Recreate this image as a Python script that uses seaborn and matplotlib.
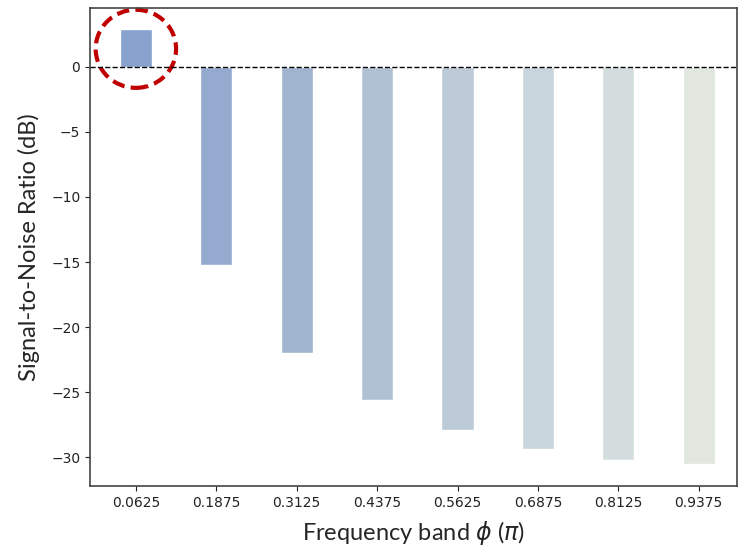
import numpy as np
import pandas as pd
import matplotlib
matplotlib.use('Agg')
import matplotlib.pyplot as plt
import seaborn as sns
from matplotlib.patches import Ellipse

# data
bands = ['0.0625', '0.1875', '0.3125', '0.4375', '0.5625', '0.6875', '0.8125', '0.9375']
snr = [2.9, -15.2, -22.0, -25.6, -27.9, -29.4, -30.2, -30.5]
bar_colors = ['#87a2cd', '#94abcf', '#a0b4d0', '#b0c1d4', '#bdcad8', '#c9d5dc', '#d4dddd', '#e1e6df']

df = pd.DataFrame({'band': bands, 'snr': snr})

sns.set_style('ticks')
fig = plt.figure(figsize=(7.38, 5.46), dpi=100)
ax = fig.add_axes([0.122, 0.110, 0.876, 0.875])

sns.barplot(data=df, x='band', y='snr', hue='band', palette=bar_colors,
            width=0.4, legend=False, ax=ax, saturation=1)

ax.axhline(0, color='black', linestyle='--', linewidth=1)

ax.set_ylim(-32.2, 4.5)
ax.set_xlim(-0.57, 7.47)
ax.set_yticks([0, -5, -10, -15, -20, -25, -30])
ax.set_yticklabels(['0', '\u22125', '\u221210', '\u221215', '\u221220', '\u221225', '\u221230'])
ax.tick_params(labelsize=10, colors='#222222')

ax.set_xlabel(r'Frequency band $\phi$ ($\pi$)', fontsize=17, family='Lato', labelpad=7)
ax.set_ylabel('Signal-to-Noise Ratio (dB)', fontsize=17, family='Lato', labelpad=8)

for s in ax.spines.values():
    s.set_color('#444444')
    s.set_linewidth(1.2)

# highlight the first band
ring = Ellipse((0, 1.38), 1.0, 6.0, fill=False, edgecolor='#c00000',
               linestyle=(0, (3, 1.5)), linewidth=3, clip_on=False)
ax.add_patch(ring)

fig.savefig('out.png', dpi=100)
